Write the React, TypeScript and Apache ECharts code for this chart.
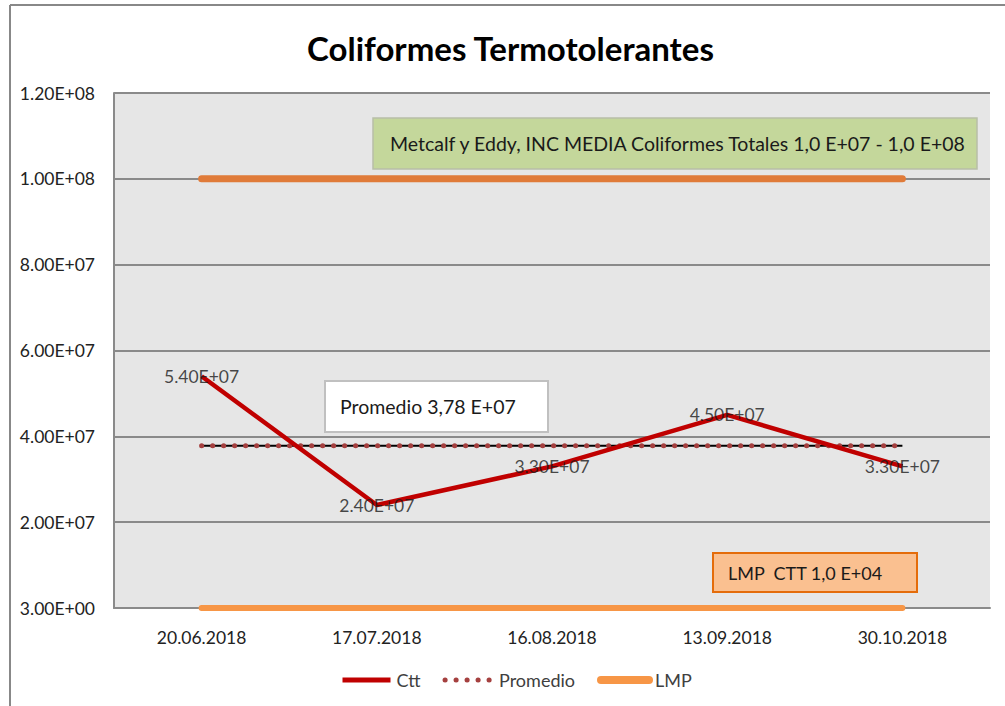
import React, { useEffect, useRef } from 'react';
import * as echarts from 'echarts';

const categories = ['20.06.2018', '17.07.2018', '16.08.2018', '13.09.2018', '30.10.2018'];
const ctt = [5.4e7, 2.4e7, 3.3e7, 4.5e7, 3.3e7];
const promedio = [3.78e7, 3.78e7, 3.78e7, 3.78e7, 3.78e7];
const lmp = [1e4, 1e4, 1e4, 1e4, 1e4];
const metcalf = [1e8, 1e8, 1e8, 1e8, 1e8];
const yMin = 0;
const yMax = 1.2e8;
const yInterval = 2e7;
const zeroTickLabel = '3.00E+00';
const titleText = 'Coliformes Termotolerantes';
const noteMetcalf = 'Metcalf y Eddy, INC MEDIA Coliformes Totales 1,0 E+07 - 1,0 E+08';
const notePromedio = 'Promedio 3,78 E+07';
const noteLmp = 'LMP  CTT 1,0 E+04';

const FONT = 'Lato, "Noto Sans", sans-serif';

function sci(v: number): string {
  if (v === 0) return zeroTickLabel;
  const [m, e] = v.toExponential(2).split('e');
  const sign = e[0] === '-' ? '-' : '+';
  const d = e.replace(/[+-]/, '');
  return m + 'E' + sign + d.padStart(2, '0');
}

function box(x: number, y: number, w: number, h: number, fill: string, stroke: string, lw: number, text: string, tx: number, fs: number) {
  return {
    type: 'group',
    z: 20,
    children: [
      { type: 'rect', shape: { x, y, width: w, height: h }, style: { fill, stroke, lineWidth: lw } },
      {
        type: 'text',
        x: tx,
        y: y + h / 2,
        style: { text, fontSize: fs, fontFamily: FONT, fill: '#1a1a1a', verticalAlign: 'middle', align: 'left' },
      },
    ],
  };
}

export default function App() {
  const ref = useRef<HTMLDivElement>(null);
  useEffect(() => {
    document.body.style.margin = '0';
    const chart = echarts.init(ref.current!, null, { renderer: 'svg' });
    chart.setOption({
      animation: false,
      backgroundColor: '#ffffff',
      title: {
        text: titleText,
        left: 302,
        top: 26,
        textStyle: { fontFamily: FONT, fontWeight: 'bold', fontSize: 33, color: '#000' },
      },
      grid: { left: 114, right: 15, top: 93, bottom: 98, show: true, backgroundColor: '#e6e6e6', borderWidth: 0 },
      legend: {
        data: [
          { name: 'Ctt', lineStyle: { width: 5, color: '#c00000' } },
          { name: 'Promedio', lineStyle: { width: 5, color: '#a5403f', type: [0.1, 10.9], cap: 'round' } },
          { name: 'LMP', lineStyle: { width: 8, color: '#f79646', cap: 'round' } },
        ],
        left: 340,
        top: 671,
        padding: 0,
        itemWidth: 48,
        itemHeight: 14,
        itemGap: 22,
        itemStyle: { opacity: 0 },
        textStyle: { fontFamily: FONT, fontSize: 18, color: '#404040', padding: [0, 0, 0, 1] },
      },
      xAxis: {
        type: 'category',
        data: categories,
        boundaryGap: true,
        axisLine: { show: true, lineStyle: { color: '#8a8a8a', width: 2 } },
        axisTick: { show: false },
        axisLabel: { fontFamily: FONT, fontSize: 17.5, color: '#222', margin: 20 },
      },
      yAxis: {
        type: 'value',
        min: yMin,
        max: yMax,
        interval: yInterval,
        axisLine: { show: true, lineStyle: { color: '#8a8a8a', width: 2 } },
        axisTick: { show: false },
        splitLine: { show: true, lineStyle: { color: '#8a8a8a', width: 2 } },
        axisLabel: { fontFamily: FONT, fontSize: 17.5, color: '#222', margin: 19, formatter: (v: number) => sci(v) },
      },
      series: [
        {
          name: 'Metcalf',
          type: 'line',
          data: metcalf,
          symbol: 'none',
          lineStyle: { color: '#e07b39', width: 7, cap: 'round' },
          itemStyle: { color: '#e07b39' },
          silent: true,
        },
        {
          name: 'LMP',
          type: 'line',
          data: lmp,
          symbol: 'none',
          lineStyle: { color: '#f79646', width: 6, cap: 'round' },
          itemStyle: { color: '#f79646' },
          z: 5,
        },
        {
          name: 'PromedioBase',
          type: 'line',
          data: promedio,
          symbol: 'none',
          lineStyle: { color: '#000000', width: 2 },
          silent: true,
        },
        {
          name: 'Promedio',
          type: 'line',
          data: promedio,
          symbol: 'none',
          lineStyle: { color: '#a5403f', width: 5, type: [0.1, 10.9], cap: 'round' },
          itemStyle: { color: '#a5403f' },
        },
        {
          name: 'Ctt',
          type: 'line',
          data: ctt,
          symbol: 'none',
          lineStyle: { color: '#c00000', width: 4.5 },
          itemStyle: { color: '#c00000' },
          z: 6,
        },
        {
          name: 'CttLabels',
          type: 'scatter',
          data: ctt,
          symbolSize: 1,
          itemStyle: { color: 'rgba(0,0,0,0)' },
          z: 7,
          label: {
            show: true,
            position: 'inside',
            formatter: (p: any) => sci(p.value),
            fontFamily: FONT,
            fontSize: 17.5,
            color: '#1a1a1a',
          },
        },
      ],
      graphic: [
        { type: 'line', z: 30, shape: { x1: 10, y1: 5, x2: 1005, y2: 5 }, style: { stroke: '#888888', lineWidth: 2 } },
        { type: 'line', z: 30, shape: { x1: 10, y1: 5, x2: 10, y2: 706 }, style: { stroke: '#888888', lineWidth: 2 } },
        box(373, 118, 604, 51, '#c4d79b', '#b8bfa8', 1.5, noteMetcalf, 390, 19.5),
        box(325, 381, 223, 51, '#ffffff', '#c0c0c0', 2, notePromedio, 340, 19.5),
        box(713, 553, 204, 39, '#fac090', '#e46c0a', 2, noteLmp, 728, 18),
      ],
    });
    return () => chart.dispose();
  }, []);
  return <div ref={ref} style={{ width: 1005, height: 706 }} />;
}
